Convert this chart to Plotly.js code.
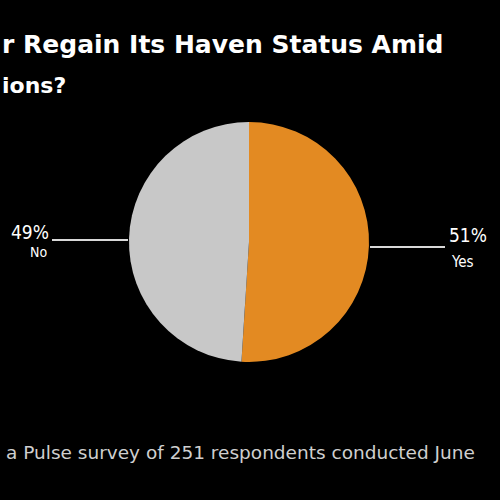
<!DOCTYPE html>
<html>
<head>
<meta charset="utf-8">
<script src="https://cdn.plot.ly/plotly-3.0.1.min.js"></script>
<style>
  html, body { margin: 0; padding: 0; background: #000; }
  #plot { width: 500px; height: 500px; }
</style>
</head>
<body>
<div id="plot"></div>
<script>
// survey answers
var answers = ["Yes", "No"];
var shares = [51, 49];
var sliceColors = ["#E38A22", "#C8C8C8"];

var titleLines = ["r Regain Its Haven Status Amid", "ions?"];
var footnote = "a Pulse survey of 251 respondents conducted June";

// pie sits in this box (paper coords)
var dom = { x: [0.258, 0.738], y: [0.276, 0.756] };
var cy = (dom.y[0] + dom.y[1]) / 2;

var pie = {
  type: "pie",
  labels: answers,
  values: shares,
  sort: false,
  direction: "clockwise",
  rotation: 0,
  textinfo: "none",
  hoverinfo: "label+percent",
  marker: { colors: sliceColors, line: { width: 0 } },
  domain: dom,
  showlegend: false
};

var lineStyle = { color: "#d8d8d8", width: 2 };

var layout = {
  width: 500,
  height: 500,
  margin: { l: 0, r: 0, t: 0, b: 0 },
  paper_bgcolor: "#000",
  plot_bgcolor: "#000",
  font: { family: "DejaVu Sans", color: "#fff" },
  shapes: [
    // Yes leader
    { type: "line", xref: "paper", yref: "paper", x0: dom.x[1] + 0.002, x1: 0.89, y0: cy - 0.01, y1: cy - 0.01, line: lineStyle },
    // No leader
    { type: "line", xref: "paper", yref: "paper", x0: 0.104, x1: dom.x[0] - 0.002, y0: cy + 0.004, y1: cy + 0.004, line: lineStyle }
  ],
  annotations: [
    { xref: "paper", yref: "paper", x: 0, y: 0.91, xanchor: "left", yanchor: "middle", showarrow: false,
      text: "<b>" + titleLines[0] + "</b>", font: { family: "DejaVu Sans", size: 25, color: "#fff" } },
    { xref: "paper", yref: "paper", x: 0, y: 0.83, xanchor: "left", yanchor: "middle", showarrow: false,
      text: "<b>" + titleLines[1] + "</b>", font: { family: "DejaVu Sans", size: 22, color: "#fff" } },
    // Yes label
    { xref: "paper", yref: "paper", x: 0.935, y: 0.53, xanchor: "center", yanchor: "middle", showarrow: false,
      text: shares[0] + "%", font: { family: "DejaVu Sans Condensed", size: 19, color: "#fff" } },
    { xref: "paper", yref: "paper", x: 0.925, y: 0.476, xanchor: "center", yanchor: "middle", showarrow: false,
      text: answers[0], font: { family: "DejaVu Sans Condensed", size: 15, color: "#fff" } },
    // No label
    { xref: "paper", yref: "paper", x: 0.06, y: 0.536, xanchor: "center", yanchor: "middle", showarrow: false,
      text: shares[1] + "%", font: { family: "DejaVu Sans Condensed", size: 19, color: "#fff" } },
    { xref: "paper", yref: "paper", x: 0.076, y: 0.496, xanchor: "center", yanchor: "middle", showarrow: false,
      text: answers[1], font: { family: "DejaVu Sans Condensed", size: 14, color: "#fff" } },
    // footnote
    { xref: "paper", yref: "paper", x: 0.008, y: 0.096, xanchor: "left", yanchor: "middle", showarrow: false,
      text: footnote, font: { family: "DejaVu Sans", size: 18.5, color: "#cfcfcf" } }
  ]
};

Plotly.newPlot("plot", [pie], layout, { displayModeBar: false, staticPlot: true });
</script>
</body>
</html>
